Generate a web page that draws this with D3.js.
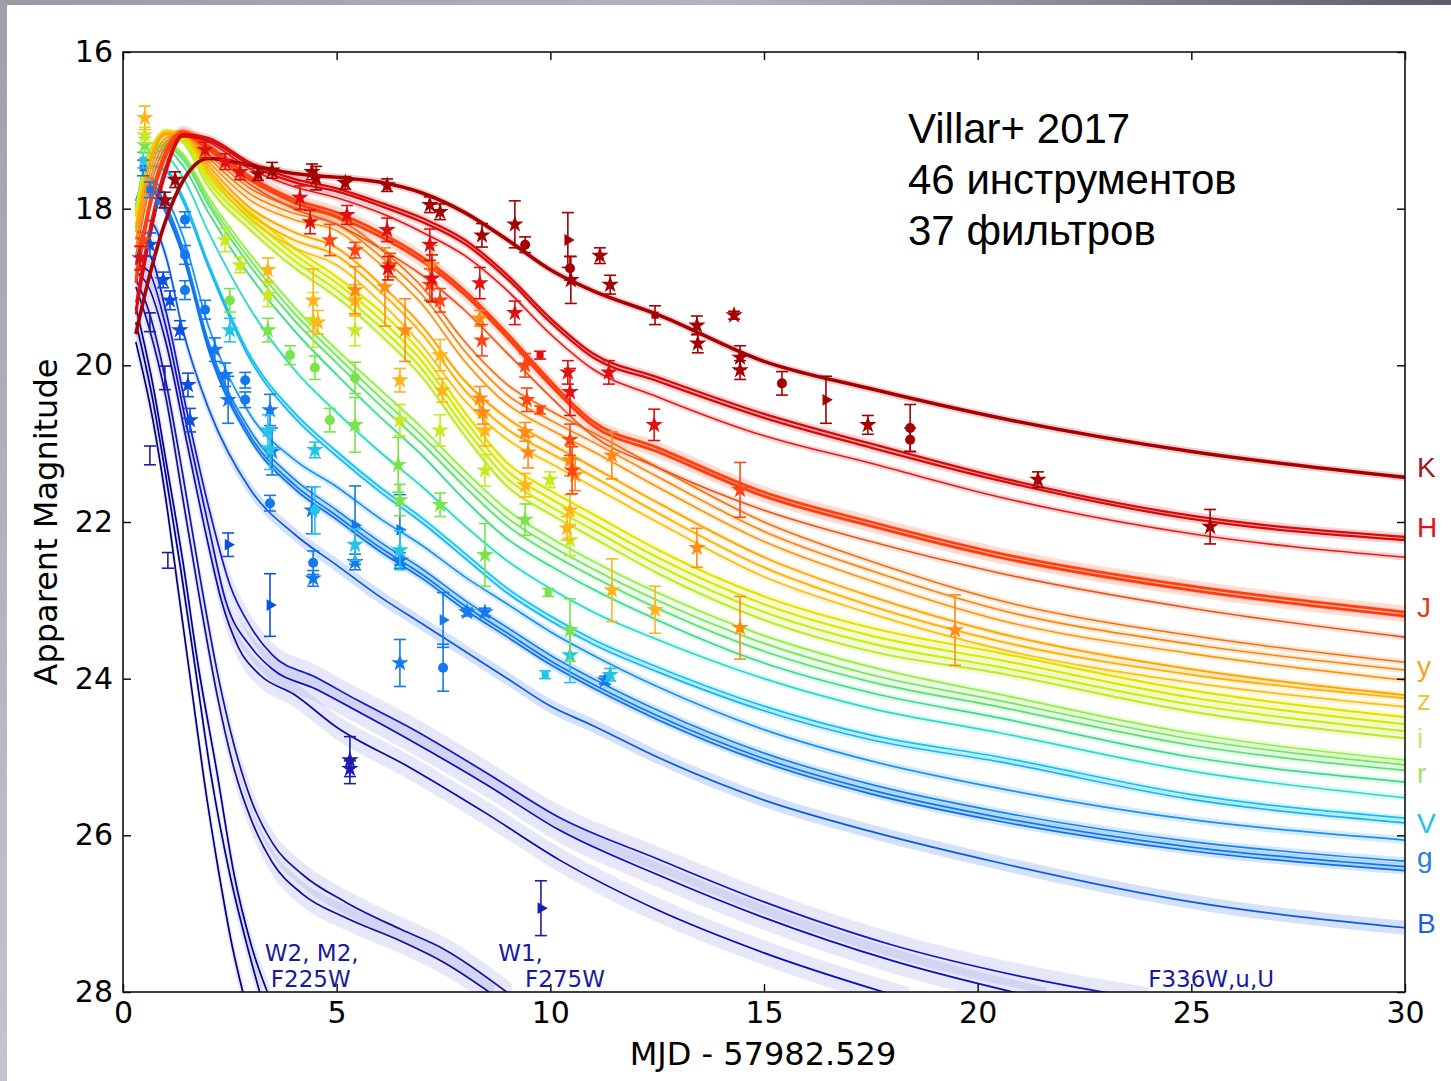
<!DOCTYPE html>
<html><head><meta charset="utf-8">
<script src="https://cdn.jsdelivr.net/npm/d3@7"></script>
<style>body{margin:0;background:#fff}svg{display:block}</style>
</head><body>
<svg id="c" width="1451" height="1081"></svg>
<script>
// ---------------- DATA ----------------
const xTicks = [0,5,10,15,20,25,30];
const yTicks = [16,18,20,22,24,26,28];
const knotT = [0.3,0.6,1.0,1.4,2,3,4,5,6,7,8,9,10,11,12.5,15,17.5,20.5,25,30];

const magK  = [19.6,18.9,18.15,17.65,17.36,17.45,17.55,17.6,17.66,17.8,18.05,18.4,18.78,19.05,19.35,19.95,20.3,20.67,21.1,21.43];
const magH1 = [19.3,18.4,17.5,17.05,17.1,17.42,17.62,17.74,17.92,18.12,18.4,18.85,19.4,19.85,20.15,20.62,21.0,21.43,21.92,22.19];
const magH2 = [19.35,18.45,17.55,17.08,17.13,17.45,17.66,17.78,17.96,18.17,18.45,18.9,19.45,19.9,20.2,20.67,21.05,21.47,21.96,22.23];
const magH3 = [19.2,18.3,17.45,17.05,17.15,17.5,17.72,17.86,18.05,18.3,18.6,19.05,19.6,20.05,20.4,20.9,21.25,21.68,22.15,22.45];
const magJ1 = [18.9,18.0,17.3,17.02,17.2,17.6,17.88,18.05,18.3,18.62,19.05,19.6,20.2,20.72,21.05,21.62,22.0,22.4,22.82,23.15];
const magJ2 = [18.95,18.05,17.33,17.05,17.24,17.64,17.92,18.1,18.35,18.67,19.1,19.65,20.25,20.77,21.1,21.67,22.05,22.45,22.87,23.2];
const magJ3 = [18.8,17.95,17.25,17.02,17.25,17.7,18.0,18.2,18.5,18.85,19.3,19.85,20.4,20.9,21.3,21.85,22.25,22.65,23.1,23.47];
const magO1 = [18.6,17.8,17.2,17.02,17.3,17.75,17.98,18.12,18.5,19.0,19.7,20.25,20.58,20.86,21.3,22.0,22.5,23.0,23.45,23.79];
const magO2 = [18.5,17.7,17.15,17.03,17.35,17.82,18.06,18.2,18.6,19.1,19.82,20.38,20.7,20.98,21.42,22.12,22.62,23.12,23.56,23.89];
const magO3 = [18.4,17.6,17.1,17.04,17.4,17.9,18.14,18.28,18.7,19.22,19.95,20.5,20.82,21.1,21.55,22.25,22.75,23.25,23.68,24.02];
const magY1 = [18.3,17.5,17.05,17.04,17.45,18.0,18.3,18.5,18.95,19.5,20.2,20.68,21.0,21.3,21.75,22.45,22.95,23.42,23.88,24.21];
const magY2 = [18.25,17.45,17.03,17.05,17.5,18.08,18.4,18.6,19.05,19.6,20.32,20.82,21.12,21.42,21.88,22.58,23.07,23.52,23.95,24.25];
const magY3 = [18.2,17.4,17.02,17.07,17.55,18.15,18.5,18.72,19.18,19.75,20.45,20.95,21.25,21.55,22.0,22.7,23.17,23.62,24.05,24.36];
const magZ1 = [18.1,17.35,17.02,17.08,17.55,18.05,18.5,18.87,19.3,19.85,20.6,21.25,21.6,21.9,22.35,22.95,23.35,23.67,24.15,24.49];
const magZ2 = [18.1,17.35,17.03,17.1,17.6,18.12,18.58,18.95,19.4,19.95,20.7,21.35,21.7,22.0,22.45,23.05,23.45,23.76,24.24,24.58];
const magZ3 = [18.05,17.3,17.03,17.12,17.65,18.2,18.66,19.04,19.5,20.05,20.8,21.45,21.8,22.1,22.55,23.15,23.55,23.85,24.33,24.67];
const magZ4 = [18.05,17.3,17.04,17.15,17.72,18.28,18.75,19.13,19.6,20.15,20.9,21.55,21.9,22.2,22.65,23.25,23.65,23.93,24.42,24.76];
const magG1 = [18.0,17.3,17.15,17.3,17.85,18.6,19.25,19.8,20.3,20.8,21.35,21.85,22.2,22.5,22.9,23.45,23.85,24.2,24.7,25.04];
const magG2 = [18.0,17.3,17.17,17.33,17.9,18.67,19.33,19.88,20.4,20.9,21.45,21.95,22.3,22.6,23.0,23.55,23.95,24.28,24.77,25.1];
const magG3 = [18.0,17.32,17.2,17.37,17.95,18.75,19.42,19.97,20.5,21.0,21.55,22.05,22.4,22.7,23.1,23.65,24.04,24.36,24.85,25.17];
const magG4 = [18.0,17.35,17.25,17.45,18.05,18.88,19.55,20.12,20.65,21.15,21.72,22.22,22.56,22.86,23.25,23.8,24.18,24.5,25.0,25.32];
const magC  = [18.0,17.35,17.35,17.6,18.3,19.3,20.05,20.6,21.1,21.55,22.05,22.5,22.85,23.15,23.5,24.0,24.38,24.69,25.18,25.52];
const magV1 = [18.0,17.45,17.5,17.85,18.7,19.9,20.6,21.1,21.55,21.95,22.4,22.85,23.2,23.5,23.85,24.35,24.72,25.0,25.48,25.78];
const magV2 = [18.0,17.45,17.52,17.9,18.75,19.95,20.66,21.16,21.61,22.01,22.46,22.91,23.26,23.56,23.91,24.41,24.78,25.06,25.54,25.84];
const magg1 = [17.9,17.6,17.85,18.35,19.5,20.65,21.2,21.55,21.95,22.3,22.7,23.05,23.4,23.7,24.1,24.65,25.05,25.4,25.8,26.06];
const magg2 = [17.9,17.65,17.95,18.5,19.7,20.85,21.45,21.85,22.25,22.6,23.0,23.35,23.7,24.0,24.4,24.95,25.35,25.7,26.08,26.33];
const magg3 = [17.95,17.7,18.0,18.55,19.75,20.92,21.52,21.92,22.32,22.67,23.07,23.42,23.77,24.07,24.47,25.02,25.42,25.77,26.15,26.4];
const magg4 = [18.0,17.75,18.05,18.6,19.8,20.97,21.57,21.97,22.37,22.72,23.12,23.47,23.82,24.12,24.52,25.07,25.47,25.82,26.2,26.45];
const magB  = [18.7,18.15,18.6,19.55,20.55,21.6,22.15,22.55,22.95,23.3,23.65,24.0,24.35,24.6,25.0,25.55,25.95,26.35,26.85,27.18];

// UV models: [day, magnitude]
const uvU1  = [[0.3,18.6],[0.6,18.6],[1.0,19.3],[1.5,20.6],[2.0,21.8],[2.5,22.8],[3.0,23.35],[3.5,23.7],[4.5,23.98],[5.5,24.28],[6.7,24.62],[8.5,25.2],[10.2,25.77],[12.5,26.3],[15,26.85],[18,27.4],[21,27.8],[24,28.1]];
const uvU2  = [[0.3,18.7],[0.6,18.8],[1.0,19.5],[1.5,20.8],[2.0,22.05],[2.4,23.0],[3.0,23.6],[3.5,23.88],[4.5,24.13],[5.5,24.42],[6.7,24.78],[8.5,25.35],[10.2,25.93],[12.5,26.5],[15,27.05],[18,27.6],[21.6,28.1]];
const uvU3  = [[0.3,18.8],[0.6,19.0],[1.0,19.7],[1.5,21.0],[2.0,22.3],[2.3,23.0],[2.7,23.6],[3.2,23.95],[4.0,24.2],[5.0,24.62],[6.7,25.13],[8.5,25.72],[10.2,26.31],[12.5,26.95],[15,27.5],[18.4,28.1]];
const uvW1a = [[0.3,19.0],[0.6,19.5],[1.0,20.4],[1.4,21.7],[1.8,23.0],[2.2,24.2],[2.6,25.15],[3.0,25.8],[3.5,26.35],[4.2,26.75],[5.2,27.05],[6.5,27.35],[7.5,27.62],[8.7,28.05]];
const uvW1b = [[0.3,18.9],[0.6,19.3],[1.0,20.2],[1.4,21.4],[1.8,22.7],[2.2,23.9],[2.6,24.85],[3.0,25.55],[3.5,26.1],[4.2,26.5],[5.2,26.85],[6.5,27.2],[7.5,27.45],[9.1,28.05]];
const uvW2a = [[0.3,19.7],[0.7,20.7],[1.0,21.7],[1.3,22.9],[1.6,24.1],[1.9,25.3],[2.25,26.5],[2.55,27.4],[2.85,28.1]];
const uvW2b = [[0.3,19.45],[0.7,20.45],[1.0,21.4],[1.35,22.6],[1.7,23.9],[2.05,25.2],[2.5,26.5],[2.9,27.4],[3.25,28.1]];
const uvW2c = [[0.3,19.25],[0.7,20.25],[1.0,21.2],[1.4,22.5],[1.75,23.8],[2.2,25.2],[2.6,26.5],[3.0,27.4],[3.45,28.1]];

// Photometry: [day, mag, error, instrument marker]
const ptK = [[3.16,17.56,0.08,'s'],[3.49,17.51,0.1,'s'],[4.42,17.53,0.1,'s'],[4.52,17.61,0.15,'s'],[5.2,17.67,0.08,'s'],[6.18,17.7,0.08,'s'],[7.18,17.95,0.1,'s'],[7.42,18.04,0.1,'s'],[8.4,18.34,0.15,'s'],[9.17,18.2,0.3,'s'],[9.41,18.46,0.1,'c'],[10.41,18.4,0.35,'t'],[10.46,18.76,0.15,'c'],[10.48,18.91,0.3,'s'],[11.16,18.6,0.1,'s'],[11.4,18.97,0.12,'s'],[12.45,19.36,0.12,'q'],[13.43,19.49,0.12,'s'],[13.45,19.72,0.12,'s'],[14.3,19.36,0.05,'s'],[14.44,19.9,0.15,'s'],[14.44,20.06,0.12,'s'],[15.42,20.23,0.15,'c'],[16.45,20.44,0.3,'t'],[17.43,20.76,0.12,'s'],[18.42,20.8,0.3,'c'],[18.42,20.95,0.15,'c'],[21.41,21.46,0.1,'s'],[25.44,22.06,0.22,'s'],[0.98,17.89,0.1,'s'],[1.22,17.63,0.1,'s']];
const ptH = [[4.14,17.86,0.15,'s'],[4.38,18.17,0.15,'s'],[5.24,18.08,0.12,'s'],[6.18,18.27,0.15,'s'],[6.2,18.76,0.15,'s'],[7.18,18.46,0.2,'s'],[7.23,18.89,0.3,'s'],[8.35,18.95,0.2,'s'],[9.17,19.33,0.15,'s'],[9.76,19.87,0.05,'q'],[10.41,20.09,0.15,'s'],[10.46,20.34,0.3,'s'],[11.37,20.09,0.15,'s'],[12.43,20.76,0.2,'s'],[0.4,18.63,0.15,'s'],[1.92,17.25,0.1,'s'],[2.39,17.4,0.1,'s'],[2.74,17.53,0.1,'s']];
const ptJ = [[4.84,18.4,0.2,'s'],[5.43,18.53,0.1,'s'],[6.25,18.72,0.15,'s'],[7.18,18.97,0.2,'s'],[7.42,19.17,0.15,'s'],[8.4,19.68,0.2,'s'],[9.41,20.0,0.15,'s'],[9.45,20.44,0.15,'s'],[9.76,20.57,0.05,'q'],[10.46,20.95,0.2,'s'],[10.51,21.34,0.3,'s'],[14.44,21.59,0.35,'s'],[0.47,18.4,0.1,'s']];
const ptO = [[5.43,19.04,0.3,'s'],[6.13,19.0,0.5,'s'],[6.6,19.55,0.4,'s'],[7.23,18.72,0.25,'s'],[8.35,19.4,0.1,'s'],[8.35,20.42,0.15,'s'],[8.42,20.6,0.15,'s'],[9.41,20.85,0.12,'s'],[9.48,21.11,0.2,'s'],[10.46,21.21,0.2,'s'],[10.58,21.4,0.2,'s'],[11.44,21.15,0.3,'s'],[13.43,22.33,0.25,'s'],[14.44,23.35,0.4,'s'],[19.47,23.38,0.45,'s']];
const ptY = [[0.51,16.84,0.15,'s'],[3.39,18.78,0.15,'s'],[4.45,19.17,0.4,'s'],[4.56,19.45,0.15,'s'],[5.43,19.17,0.2,'s'],[6.48,20.19,0.15,'s'],[7.42,19.87,0.2,'s'],[7.47,20.32,0.15,'s'],[8.47,20.83,0.2,'s'],[9.41,21.53,0.15,'s'],[10.46,21.85,0.2,'s'],[10.39,22.08,0.15,'s'],[11.44,22.87,0.4,'s'],[12.45,23.12,0.3,'s']];
const ptZ = [[0.51,17.06,0.1,'s'],[2.39,18.4,0.15,'s'],[2.74,18.72,0.1,'s'],[3.39,19.1,0.15,'s'],[4.45,19.42,0.35,'s'],[5.43,19.55,0.2,'s'],[6.48,20.7,0.2,'s'],[7.42,20.83,0.2,'s'],[8.47,21.34,0.2,'s'],[9.99,21.46,0.1,'s'],[10.46,22.23,0.2,'s']];
const ptG = [[0.51,17.19,0.1,'s'],[2.5,19.17,0.15,'c'],[3.39,19.55,0.15,'s'],[3.91,19.87,0.12,'c'],[4.49,20.03,0.15,'c'],[4.84,20.7,0.15,'c'],[5.43,20.16,0.2,'c'],[5.43,20.76,0.35,'s'],[6.44,21.27,0.35,'s'],[6.48,21.72,0.2,'s'],[7.42,21.78,0.15,'s'],[8.47,22.42,0.4,'s'],[9.41,21.97,0.2,'s'],[9.95,22.9,0.05,'q'],[10.46,23.38,0.4,'s']];
const ptV = [[0.47,17.38,0.1,'q'],[2.5,19.55,0.15,'s'],[3.39,20.83,0.2,'s'],[3.44,21.08,0.25,'s'],[4.49,21.08,0.1,'s'],[4.49,21.85,0.3,'c'],[5.43,22.29,0.2,'s'],[6.48,22.36,0.25,'s'],[9.88,23.95,0.05,'q'],[10.46,23.7,0.35,'s'],[11.4,23.95,0.08,'s']];
const ptg = [[0.47,17.48,0.1,'q'],[0.63,17.76,0.1,'q'],[0.87,17.89,0.1,'s'],[1.45,18.14,0.1,'c'],[1.45,18.59,0.12,'c'],[1.45,19.04,0.12,'c'],[1.92,19.29,0.12,'c'],[2.15,19.8,0.15,'s'],[2.39,20.12,0.15,'s'],[2.46,20.44,0.3,'s'],[2.86,20.19,0.1,'c'],[2.86,20.44,0.1,'c'],[3.44,20.57,0.2,'s'],[3.49,21.1,0.3,'s'],[3.44,21.76,0.1,'c'],[4.42,21.85,0.3,'s'],[4.45,22.52,0.15,'c'],[4.45,22.72,0.1,'s'],[5.43,22.04,0.5,'t'],[5.43,22.51,0.1,'s'],[6.48,22.1,0.45,'t'],[6.48,22.49,0.1,'s'],[7.49,23.25,0.35,'t'],[7.49,23.86,0.3,'c'],[6.48,23.8,0.3,'s'],[8.05,23.15,0.05,'s'],[8.47,23.15,0.05,'s'],[11.28,24.02,0.05,'s']];
const ptB = [[0.63,18.46,0.15,'s'],[0.94,18.91,0.1,'s'],[1.1,19.17,0.12,'s'],[1.33,19.55,0.12,'s'],[1.52,20.25,0.15,'s'],[1.57,20.7,0.15,'s'],[2.46,22.29,0.15,'t'],[3.44,23.06,0.4,'t']];
const ptUV = [[0.63,19.45,0.12,'n'],[0.63,21.15,0.12,'n'],[1.05,22.49,0.1,'n'],[0.98,20.16,0.15,'n'],[5.31,25.04,0.3,'s'],[5.31,25.15,0.1,'s'],[9.78,26.93,0.35,'t']];

const bandLabels = ["K","H","J","y","z","i","r","V","g","B"];
const bandLabelMag = [21.43,22.19,23.21,23.97,24.4,24.89,25.33,25.97,26.4,27.25];
const uvLabels = [["W2, M2,",3.32,27.6],["F225W",3.46,27.94],["W1,",8.78,27.6],["F275W",9.41,27.94],["F336W,u,U",23.99,27.94]];
const noteLines = ["Villar+ 2017","46 инструментов","37 фильтров"];

// ---------------- STYLE / RENDER ----------------
const svg = d3.select("#c");
const x = d3.scaleLinear().domain([0,30]).range([123,1405]);
const y = d3.scaleLinear().domain([16,28]).range([52,992]);

const defs = svg.append("defs");
const gTop = defs.append("linearGradient").attr("id","gt").attr("x1","0").attr("x2","1");
gTop.append("stop").attr("offset","0").attr("stop-color","#9a9aa2");
gTop.append("stop").attr("offset","0.5").attr("stop-color","#b4b4bc");
gTop.append("stop").attr("offset","1").attr("stop-color","#5c5c64");
const gLeft = defs.append("linearGradient").attr("id","gl").attr("x1","0").attr("x2","0").attr("y1","0").attr("y2","1");
gLeft.append("stop").attr("offset","0").attr("stop-color","#a0a0a8");
gLeft.append("stop").attr("offset","1").attr("stop-color","#c4c4cc");
defs.append("clipPath").attr("id","clip").append("rect").attr("x",123).attr("y",52).attr("width",1282).attr("height",940);

svg.append("rect").attr("width",1451).attr("height",1081).attr("fill","#fff");
svg.append("rect").attr("x",0).attr("y",0).attr("width",1451).attr("height",5).attr("fill","url(#gt)");
svg.append("rect").attr("x",0).attr("y",0).attr("width",7).attr("height",1081).attr("fill","url(#gl)");

const optical = [
  ["B",magB,"#0c58e2",1.7,0.09],["g4",magg4,"#0a70ea",1.7,0.05],["g3",magg3,"#0a78f0",1.7,0.05],["g2",magg2,"#1282f2",1.7,0.05],["g1",magg1,"#1a90f0",1.7,0.05],
  ["V2",magV2,"#18b4f0",1.7,0.04],["V1",magV1,"#10c2f0",1.7,0.04],["C",magC,"#30d8c8",1.7,0.04],
  ["G4",magG4,"#40d890",1.7,0.04],["G3",magG3,"#58e070",1.7,0.04],["G2",magG2,"#72e858",1.7,0.04],["G1",magG1,"#90f040",1.7,0.04],
  ["Z4",magZ4,"#c0ea30",2.2,0.05],["Z3",magZ3,"#c8ee18",2.2,0.05],["Z2",magZ2,"#d4ea08",2.2,0.05],["Z1",magZ1,"#e2e400",2.2,0.05],
  ["Y3",magY3,"#f8c010",1.7,0.04],["Y2",magY2,"#ffb000",1.9,0.04],["Y1",magY1,"#ffa400",1.9,0.04],
  ["O3",magO3,"#f89410",1.6,0.04],["O2",magO2,"#f88410",1.6,0.04],["O1",magO1,"#f27010",1.6,0.04],
  ["J3",magJ3,"#ea5418",1.6,0.04],["J2",magJ2,"#ff3c10",2.8,0.08],["J1",magJ1,"#ff4010",2.8,0.08],
  ["H3",magH3,"#e61818",1.6,0.04],["H2",magH2,"#d80a0a",2.3,0.05],["H1",magH1,"#d80a0a",2.3,0.05],
  ["K",magK,"#a80000",3.6,0.05]
];
const uv = [
  ["U3",uvU3,"#0a0cb0"],["U2",uvU2,"#0c10bc"],["U1",uvU1,"#1018c8"],
  ["W1b",uvW1b,"#1414a4"],["W1a",uvW1a,"#10109c"],
  ["W2c",uvW2c,"#00008e"],["W2b",uvW2b,"#000088"],["W2a",uvW2a,"#00007c"]
];

const plot = svg.append("g").attr("clip-path","url(#clip)");
const line = d3.line().x(d=>x(d[0])).y(d=>y(d[1])).curve(d3.curveMonotoneX);
const area = bw => d3.area().x(d=>x(d[0])).y0(d=>y(d[1]-bw)).y1(d=>y(d[1]+bw)).curve(d3.curveMonotoneX);

uv.forEach(([n,pts,c])=>{
  plot.append("path").attr("d",area(0.16)(pts)).attr("fill","#6a6ad8").attr("fill-opacity",0.16);
});
uv.forEach(([n,pts,c])=>{
  plot.append("path").attr("d",line(pts)).attr("fill","none").attr("stroke",c).attr("stroke-width",1.7);
});
optical.forEach(([n,m,c,w,bw])=>{
  const pts = knotT.map((t,i)=>[t,m[i]]);
  plot.append("path").attr("d",area(bw)(pts)).attr("fill",c).attr("fill-opacity",0.18);
});
optical.forEach(([n,m,c,w,bw])=>{
  const pts = knotT.map((t,i)=>[t,m[i]]);
  plot.append("path").attr("d",line(pts)).attr("fill","none").attr("stroke",c).attr("stroke-width",w).attr("stroke-linejoin","round");
});

// photometry
const ptSets = [[ptUV,"#1a1ab4"],[ptB,"#0c50e0"],[ptg,"#1478ee"],[ptV,"#22c4e8"],[ptG,"#78e448"],[ptZ,"#c8e820"],[ptY,"#ffb41a"],[ptO,"#ff8a14"],[ptJ,"#ff4414"],[ptH,"#de1010"],[ptK,"#a40000"]];
const symMap = {s:d3.symbolStar,c:d3.symbolCircle,t:d3.symbolTriangle,q:d3.symbolSquare};
const gp = plot.append("g");
ptSets.forEach(([arr,c])=>{
  arr.forEach(([t,m,e,s])=>{
    const px = x(t), y0 = y(m-e), y1 = y(m+e);
    gp.append("line").attr("x1",px).attr("x2",px).attr("y1",y0).attr("y2",y1).attr("stroke",c).attr("stroke-width",1.6);
    [y0,y1].forEach(yy=>gp.append("line").attr("x1",px-6).attr("x2",px+6).attr("y1",yy).attr("y2",yy).attr("stroke",c).attr("stroke-width",1.6));
    if (s!=='n') {
      const size = s==='s'?95:(s==='c'?80:(s==='q'?50:60));
      gp.append("path").attr("d",d3.symbol(symMap[s],size)())
        .attr("transform",`translate(${px},${y(m)})`+(s==='t'?" rotate(90)":""))
        .attr("fill",c);
    }
  });
});

// axes (inward ticks on all sides)
const fontAxis = "'DejaVu Sans', sans-serif";
const ax = (gen,tx,ty,lab) => {
  const g = svg.append("g").attr("transform",`translate(${tx},${ty})`).call(gen);
  g.select(".domain").remove();
  g.selectAll(".tick line").attr("stroke","#000").attr("stroke-width",1.4);
  g.selectAll("text").attr("font-family",fontAxis).attr("font-size",30).attr("fill","#000");
  if(!lab) g.selectAll("text").remove();
  return g;
};
ax(d3.axisBottom(x).tickValues(xTicks).tickSize(-8).tickPadding(10).tickFormat(d3.format("d")),0,992,true);
ax(d3.axisTop(x).tickValues(xTicks).tickSize(-8),0,52,false);
ax(d3.axisLeft(y).tickValues(yTicks).tickSize(-8).tickPadding(10).tickFormat(d3.format("d")),123,0,true);
ax(d3.axisRight(y).tickValues(yTicks).tickSize(-8),1405,0,false);
svg.append("rect").attr("x",123).attr("y",52).attr("width",1282).attr("height",940).attr("fill","none").attr("stroke","#111").attr("stroke-width",1.6);

svg.append("text").attr("x",763).attr("y",1065).attr("text-anchor","middle").attr("font-family",fontAxis).attr("font-size",32).attr("fill","#000").text("MJD - 57982.529");
svg.append("text").attr("transform","translate(57,522) rotate(-90)").attr("text-anchor","middle").attr("font-family",fontAxis).attr("font-size",32).attr("fill","#000").text("Apparent Magnitude");

// band labels at right
const labelColors = ["#a01818","#e01020","#e03a22","#f0a428","#f0c24a","#c4e682","#a6de78","#22c0e4","#2a7ee0","#1a62e0"];
bandLabels.forEach((b,i)=>{
  svg.append("text").attr("x",1417).attr("y",y(bandLabelMag[i])).attr("font-family","'Liberation Sans', Arial, sans-serif")
    .attr("font-size",28).attr("fill",labelColors[i]).text(b);
});
// UV labels
uvLabels.forEach(([s,t,m])=>{
  svg.append("text").attr("x",x(t)).attr("y",y(m)).attr("font-family",fontAxis).attr("font-size",23).attr("fill","#1a1a9e").text(s);
});
// note
noteLines.forEach((s,i)=>{
  svg.append("text").attr("x",908).attr("y",143+i*51).attr("font-family","'Liberation Sans', Arial, sans-serif").attr("font-size",42).attr("fill","#000").text(s);
});
</script>
</body></html>
